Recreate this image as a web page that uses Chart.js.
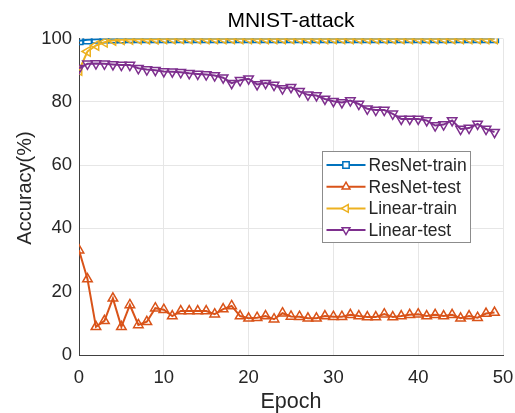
<!DOCTYPE html>
<html>
<head>
<meta charset="utf-8">
<script src="https://cdn.jsdelivr.net/npm/chart.js@4"></script>
<style>
    html, body { margin: 0; padding: 0; background: #fff; }
    #wrap { width: 515px; height: 413px; }
</style>
</head>
<body>
<div id="wrap"><canvas id="accChart" width="515" height="413"></canvas></div>
<script>
const epochs = [0, 1, 2, 3, 4, 5, 6, 7, 8, 9, 10, 11, 12, 13, 14, 15, 16, 17, 18, 19,
    20, 21, 22, 23, 24, 25, 26, 27, 28, 29, 30, 31, 32, 33, 34, 35, 36, 37, 38, 39,
    40, 41, 42, 43, 44, 45, 46, 47, 48, 49];

const resnetTrain = [99.3, 99.6, 99.8, 99.9, 99.9, 99.9, 100, 100, 100, 100,
    100, 100, 100, 100, 100, 100, 100, 100, 100, 100,
    100, 100, 100, 100, 100, 100, 100, 100, 100, 100,
    100, 100, 100, 100, 100, 100, 100, 100, 100, 100,
    100, 100, 100, 100, 100, 100, 100, 100, 100, 100];

const resnetTest = [33.1, 24.0, 8.9, 10.8, 17.9, 8.9, 15.8, 9.5, 10.5, 14.8,
    14.3, 12.3, 13.9, 13.9, 13.9, 13.9, 12.9, 14.5, 15.5, 12.3,
    11.6, 11.8, 12.3, 11.3, 13.2, 12.2, 12.1, 11.6, 11.6, 12.3,
    12.1, 12.1, 12.7, 12.3, 12.0, 12.0, 12.9, 12.0, 12.3, 12.7,
    12.9, 12.3, 12.7, 12.3, 12.7, 11.6, 12.3, 11.8, 13.1, 13.4];

const linearTrain = [89.9, 95.9, 97.8, 98.8, 99.4, 99.6, 99.7, 99.8, 99.8, 99.8,
    99.9, 99.9, 99.9, 99.9, 99.9, 99.9, 99.9, 99.9, 99.9, 99.9,
    99.9, 99.9, 99.9, 99.9, 99.9, 99.9, 99.9, 99.9, 99.9, 99.9,
    99.9, 99.9, 99.9, 99.9, 99.9, 99.9, 99.9, 99.9, 99.9, 99.9,
    99.9, 99.9, 99.9, 99.9, 99.9, 99.9, 99.9, 99.9, 99.9, 99.9];

const linearTest = [90.6, 92.0, 92.1, 92.0, 91.8, 91.6, 91.6, 90.6, 90.2, 90.0,
    89.6, 89.5, 89.3, 89.0, 88.8, 88.6, 88.3, 87.6, 85.9, 86.8,
    87.3, 85.5, 85.9, 85.3, 84.2, 84.6, 83.3, 82.2, 82.0, 80.9,
    80.2, 79.8, 80.4, 79.3, 77.8, 77.4, 77.4, 76.2, 74.6, 74.6,
    74.6, 74.1, 72.5, 72.8, 74.1, 71.4, 71.7, 73.0, 71.4, 70.4];

const xTicks = [0, 10, 20, 30, 40, 50];
const yTicks = [0, 20, 40, 60, 80, 100];

const FONT = "'Liberation Sans', Arial, sans-serif";
const TEXT = '#262626';

const series = [
    { label: 'ResNet-train', data: resnetTrain, color: '#0072BD', style: 'rect', rot: 0, radius: 5.5 },
    { label: 'ResNet-test', data: resnetTest, color: '#D95319', style: 'triangle', rot: 0, radius: 5.5 },
    { label: 'Linear-train', data: linearTrain, color: '#EDB120', style: 'triangle', rot: -90, radius: 5.5 },
    { label: 'Linear-test', data: linearTest, color: '#7E2F8E', style: 'triangle', rot: 180, radius: 5.5 }
];

// title, y label and legend drawn by hand so they sit where MATLAB put them
const decorPlugin = {
    id: 'decor',
    afterDraw(chart) {
        const ctx = chart.ctx;
        const area = chart.chartArea;
        ctx.save();
        ctx.fillStyle = '#000';
        ctx.font = '21px ' + FONT;
        ctx.textAlign = 'center';
        ctx.textBaseline = 'middle';
        ctx.fillText('MNIST-attack', (area.left + area.right) / 2, 21);

        ctx.save();
        ctx.translate(25, 188);
        ctx.rotate(-Math.PI / 2);
        ctx.fillStyle = TEXT;
        ctx.font = '20px ' + FONT;
        ctx.fillText('Accuracy(%)', 0, 0);
        ctx.restore();

        const bx = 322.5, by = 151.5, bw = 148, bh = 91;
        ctx.fillStyle = '#fff';
        ctx.fillRect(bx, by, bw, bh);
        ctx.strokeStyle = '#8c8c8c';
        ctx.lineWidth = 1;
        ctx.strokeRect(bx, by, bw, bh);

        ctx.font = '17.5px ' + FONT;
        ctx.textAlign = 'left';
        series.forEach((s, i) => {
            const y = by + 13.5 + i * 21.7;
            ctx.strokeStyle = s.color;
            ctx.lineWidth = 2;
            ctx.beginPath();
            ctx.moveTo(bx + 4, y);
            ctx.lineTo(bx + 43, y);
            ctx.stroke();
            ctx.lineWidth = 1.5;
            ctx.fillStyle = '#fff';
            Chart.helpers.drawPoint(ctx, {
                pointStyle: s.style, rotation: s.rot, radius: 4.5, borderWidth: 1.5
            }, bx + 23.5, y);
            ctx.fillStyle = TEXT;
            ctx.fillText(s.label, bx + 46, y + 1);
        });
        ctx.restore();
    }
};

new Chart(document.getElementById('accChart').getContext('2d'), {
    type: 'line',
    data: {
        datasets: series.map((s, i) => ({
            label: s.label,
            data: epochs.map((e, k) => ({ x: e, y: s.data[k] })),
            borderColor: s.color,
            borderWidth: 2,
            pointStyle: s.style,
            pointRotation: s.rot,
            pointRadius: s.radius,
            pointBorderWidth: 1.5,
            pointBorderColor: s.color,
            pointBackgroundColor: 'rgba(255,255,255,0)',
            tension: 0,
            fill: false,
            order: 4 - i
        }))
    },
    options: {
        responsive: false,
        animation: false,
        layout: { padding: { top: 38.5, right: 12, left: 0, bottom: 0 } },
        plugins: {
            legend: { display: false },
            tooltip: { enabled: false },
            title: { display: false }
        },
        scales: {
            x: {
                type: 'linear',
                min: 0,
                max: 50,
                afterBuildTicks: axis => { axis.ticks = xTicks.map(v => ({ value: v })); },
                afterFit: axis => { axis.height = 58; axis.paddingLeft = 0; axis.paddingRight = 0; },
                grid: { color: '#e6e6e6', drawTicks: false },
                border: { color: '#404040', width: 1 },
                ticks: { color: TEXT, font: { family: FONT, size: 18.5 }, padding: 12, maxRotation: 0 },
                title: { display: true, text: 'Epoch', color: TEXT, font: { family: FONT, size: 21.5, lineHeight: 1 }, padding: 0 }
            },
            y: {
                min: 0,
                max: 100,
                afterBuildTicks: axis => { axis.ticks = yTicks.map(v => ({ value: v })); },
                afterFit: axis => { axis.width = 79; axis.paddingTop = 0; axis.paddingBottom = 0; },
                grid: { color: '#e6e6e6', drawTicks: false },
                border: { color: '#404040', width: 1 },
                ticks: { color: TEXT, font: { family: FONT, size: 18.5 }, padding: 7 }
            }
        }
    },
    plugins: [decorPlugin]
});
</script>
</body>
</html>
